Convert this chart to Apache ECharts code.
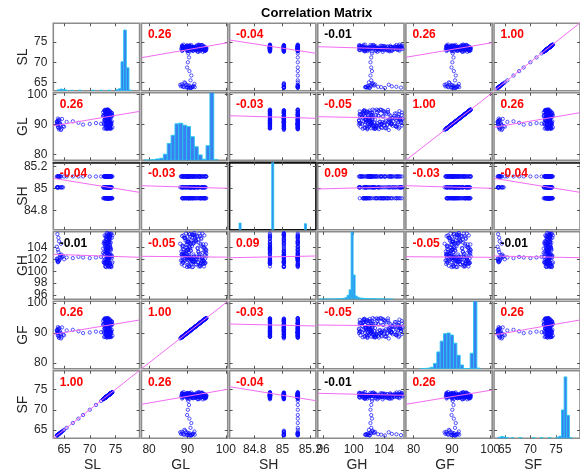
<!DOCTYPE html>
<html>
<head>
<meta charset="utf-8">
<script src="https://cdn.jsdelivr.net/npm/echarts@6/dist/echarts.min.js"></script>
<style>
html, body { margin: 0; padding: 0; background: #fff; }
#chart { width: 580px; height: 476px; }
</style>
</head>
<body>
<div id="chart"></div>
<script>
// Variables, in matrix order (rows top to bottom, columns left to right)
const varNames = ['SL', 'GL', 'SH', 'GH', 'GF', 'SF'];

// Observations: five high-SL blocks, the low-SL group, then the in-between records
const SL = [
  73.6,73.2,73.9,73.4,74.1,73.0,73.7,73.5,72.8,73.8,74.3,73.3,73.6,72.6,73.9,73.1,74.0,73.5,73.4,73.7,72.9,74.2,73.6,73.3,73.8,73.0,73.5,74.4,73.2,73.7,
  73.4,73.8,73.1,74.0,73.5,72.7,73.6,73.9,73.3,74.2,73.0,73.7,73.4,73.8,72.9,73.5,74.1,73.2,73.6,74.3,73.4,72.8,73.7,73.1,73.9,73.5,74.0,73.3,72.6,73.6,
  73.7,73.3,74.0,73.5,72.9,73.8,73.2,74.2,73.6,73.0,73.9,73.4,74.3,73.1,73.7,72.7,73.5,74.1,73.3,73.8,73.6,72.8,74.0,73.4,73.9,73.2,73.6,74.4,73.0,73.5,
  73.5,73.1,73.8,73.6,73.3,74.0,73.2,73.7,73.4,73.9,73.0,73.6,73.5,74.2,73.3,72.9,73.8,73.4,73.6,74.1,73.2,73.5,73.7,72.8,73.9,73.4,73.1,73.6,74.0,73.3,
  73.6,73.9,73.3,73.5,74.1,73.0,73.7,73.4,73.8,72.7,73.5,74.3,73.2,73.6,73.9,73.1,73.4,74.0,73.7,72.9,73.5,73.8,73.3,74.2,73.6,73.0,73.4,73.9,73.2,73.7,
  63.7,64.1,63.9,64.4,63.6,64.0,64.6,63.8,64.2,65.0,63.7,64.3,63.9,64.1,64.8,63.6,64.5,64.0,63.8,63.8,63.7,63.7,64.4,63.9,
  65.5,66.7,67.8,68.7,70.0,71.2,72.2
];
const GL = [
  88.9,93.4,90.7,94.6,89.8,92.1,91.3,94.9,88.6,90.2,93.8,91.9,89.3,92.7,94.2,90.9,88.7,93.1,91.6,89.5,94.4,92.4,90.4,93.6,89.1,91.1,94.8,92.9,90.0,93.3,
  91.7,89.4,94.3,92.6,88.8,90.5,93.9,91.2,94.7,89.9,92.3,90.8,93.5,88.5,91.5,94.1,90.1,92.8,89.2,93.0,91.0,94.5,89.7,92.0,90.6,93.7,88.7,91.8,94.0,90.3,
  93.2,90.0,88.6,92.5,94.8,91.4,89.6,93.9,90.7,94.3,88.9,92.2,91.0,94.6,89.3,93.1,90.4,92.9,88.4,91.7,94.1,89.9,93.6,91.2,90.2,94.9,92.0,89.0,93.4,91.5,
  90.4,93.7,91.8,89.2,94.4,92.3,88.8,91.0,93.2,89.7,94.7,92.6,90.9,88.6,93.9,91.4,89.5,92.1,94.2,90.6,88.9,93.4,91.6,90.1,94.5,92.8,89.9,91.3,93.0,90.0,
  92.0,89.1,94.0,90.8,93.3,88.7,91.9,94.6,90.3,92.7,89.4,93.6,91.1,94.9,89.8,92.4,88.5,90.7,93.8,91.5,94.3,89.6,92.9,90.5,88.8,93.1,91.7,94.1,90.2,92.2,
  90.2,88.7,91.4,89.6,90.9,88.3,91.8,89.9,90.5,89.2,91.1,90.0,88.9,91.6,89.4,90.7,88.5,90.3,91.9,89.1,90.6,89.8,88.1,91.2,
  90.8,91.0,90.5,89.9,90.1,90.4,90.2
];
const SH = [
  84.91,84.91,84.91,84.91,84.91,84.91,84.91,84.91,84.91,84.91,84.91,84.91,84.91,84.91,84.91,84.91,84.91,84.91,84.91,84.91,84.91,84.91,84.91,84.91,84.91,84.91,84.91,84.91,84.91,84.91,
  85.01,85.01,85.01,85.01,85.01,85.01,85.01,85.01,85.01,85.01,85.01,85.01,85.01,85.01,85.01,85.01,85.01,85.01,85.01,85.01,85.01,85.01,85.01,85.01,85.01,85.01,85.01,85.01,85.01,85.01,
  85.11,85.11,85.11,85.11,85.11,85.11,85.11,85.11,85.11,85.11,85.11,85.11,85.11,85.11,85.11,85.11,85.11,85.11,85.11,85.11,85.11,85.11,85.11,85.11,85.11,85.11,85.11,85.11,85.11,85.11,
  84.91,85.01,85.11,84.91,85.01,85.11,84.91,85.01,85.11,84.91,85.01,85.11,84.91,85.01,85.11,84.91,85.01,85.11,84.91,85.01,85.11,84.91,85.01,85.11,84.91,85.01,85.11,84.91,85.01,85.11,
  85.01,85.11,84.91,85.01,85.11,84.91,85.01,85.11,84.91,85.01,85.11,84.91,85.01,85.11,84.91,85.01,85.11,84.91,85.01,85.11,84.91,85.01,85.11,84.91,85.01,85.11,84.91,85.01,85.11,84.91,
  85.01,85.11,85.01,85.11,85.01,85.11,85.01,85.11,85.01,85.11,85.01,85.11,85.01,85.11,85.01,85.11,85.01,85.11,85.01,85.11,85.01,85.11,85.01,85.11,
  85.11,85.11,85.11,85.11,85.11,85.11,85.11
];
const GH = [
  104.2,101.3,105.8,102.7,103.5,101.2,106.1,103.0,101.8,104.9,102.2,105.4,101.7,103.8,101.4,104.6,102.9,106.3,101.6,105.1,103.3,102.4,104.0,101.3,105.6,102.0,103.6,101.5,104.4,105.9,
  102.5,105.5,100.8,103.9,101.5,104.7,102.1,106.2,103.2,100.7,105.0,101.9,104.3,102.8,106.0,101.2,103.7,105.3,100.9,102.6,104.8,101.4,103.4,105.7,102.3,101.7,104.1,106.4,103.1,100.8,
  101.0,103.6,105.9,102.0,104.5,100.7,103.0,106.3,101.6,104.0,102.7,105.2,101.3,103.8,105.6,102.4,100.9,104.8,103.3,106.1,101.8,102.9,105.4,104.2,101.1,103.5,102.2,106.0,100.8,104.6,
  103.1,101.6,104.8,102.9,106.0,101.1,103.7,105.2,102.3,104.4,101.4,105.8,103.4,102.6,104.1,101.5,105.5,102.0,103.9,106.2,101.8,104.6,102.8,105.0,101.3,103.3,104.9,102.2,100.8,105.7,
  105.1,102.7,101.9,103.5,100.9,104.3,106.1,102.1,104.9,101.5,103.0,105.6,100.7,102.5,104.0,105.9,101.2,103.8,102.4,104.7,101.7,106.3,103.2,100.8,101.4,102.9,101.6,104.5,103.6,102.0,
  101.9,102.3,101.6,102.6,102.1,101.8,102.4,101.5,102.7,102.0,101.7,102.2,103.2,101.9,102.5,104.1,102.8,105.0,101.6,103.6,106.2,102.1,104.6,105.6,
  102.3,102.2,102.4,102.3,102.2,102.3,102.4
];
const GF = [
  88.9,93.5,90.7,94.6,89.8,92.1,91.3,94.8,88.6,90.2,93.8,91.9,89.3,92.7,94.2,90.9,88.7,93.1,91.6,89.5,94.4,92.4,90.4,93.6,89.1,91.1,94.8,92.9,90.0,93.3,
  91.7,89.4,94.3,92.6,88.8,90.5,93.9,91.2,94.7,89.9,92.3,90.8,93.5,88.5,91.5,94.1,90.1,92.8,89.2,93.0,91.0,94.5,89.7,92.0,90.6,93.7,88.7,91.8,94.0,90.3,
  93.2,90.0,88.6,92.5,94.8,91.4,89.6,93.9,90.7,94.3,88.9,92.2,91.0,94.6,89.3,93.1,90.4,92.9,88.4,91.7,94.1,89.9,93.6,91.2,90.2,94.9,92.0,89.0,93.4,91.5,
  90.4,93.7,91.8,89.2,94.4,92.3,88.8,91.0,93.2,89.7,94.7,92.6,90.9,88.6,93.9,91.4,89.5,92.1,94.2,90.6,88.9,93.4,91.6,90.1,94.5,92.8,89.9,91.3,93.0,90.0,
  92.0,89.1,94.0,90.8,93.3,88.7,91.9,94.6,90.3,92.7,89.4,93.6,91.1,94.9,89.8,92.4,88.5,90.7,93.8,91.5,94.3,89.6,92.9,90.5,88.8,93.1,91.7,94.1,90.2,92.2,
  90.2,88.7,91.4,89.6,90.9,88.3,91.8,89.9,90.5,89.2,91.1,90.0,88.9,91.6,89.4,90.7,88.5,90.3,91.9,89.1,90.6,89.8,88.1,91.2,
  90.8,91.0,90.5,89.9,90.1,90.4,90.2
];
const SF = [
  73.6,73.2,73.8,73.4,74.1,73.0,73.7,73.5,72.8,73.8,74.2,73.3,73.6,72.6,73.9,73.1,74.0,73.5,73.4,73.7,72.9,74.2,73.6,73.3,73.8,73.0,73.5,74.4,73.2,73.7,
  73.4,73.8,73.1,74.0,73.5,72.7,73.6,73.9,73.3,74.2,73.0,73.7,73.4,73.8,72.9,73.5,74.1,73.2,73.6,74.3,73.4,72.8,73.7,73.1,73.9,73.5,74.0,73.3,72.6,73.6,
  73.7,73.3,74.0,73.5,72.9,73.8,73.2,74.2,73.6,73.0,73.9,73.4,74.3,73.1,73.7,72.7,73.5,74.1,73.3,73.8,73.6,72.8,74.0,73.4,73.9,73.2,73.6,74.4,73.0,73.5,
  73.5,73.1,73.8,73.6,73.3,74.0,73.2,73.7,73.4,73.9,73.0,73.6,73.5,74.2,73.3,72.9,73.8,73.4,73.6,74.1,73.2,73.5,73.7,72.8,73.9,73.4,73.1,73.6,74.0,73.3,
  73.6,73.9,73.3,73.5,74.1,73.0,73.7,73.4,73.8,72.7,73.5,74.3,73.2,73.6,73.9,73.1,73.4,74.0,73.7,72.9,73.5,73.8,73.3,74.2,73.6,73.0,73.4,73.9,73.2,73.7,
  63.7,64.1,63.9,64.4,63.6,64.0,64.6,63.8,64.2,65.0,63.7,64.3,63.9,64.1,64.8,63.6,64.5,64.0,63.8,63.8,63.7,63.7,64.4,63.9,
  65.5,66.7,67.8,68.7,70.0,71.2,72.2
];
const columns = [SL, GL, SH, GH, GF, SF];

// Axis limits and tick values for each variable
const axisMin = [62.9, 78, 84.62, 95.3, 78, 62.9];
const axisMax = [79.7, 100.5, 85.24, 106.6, 100.5, 79.7];
const rowTicks = [[65, 70, 75], [80, 90, 100], [84.8, 85, 85.2], [96, 98, 100, 102, 104], [80, 90, 100], [65, 70, 75]];
const colTicks = [[65, 70, 75], [80, 90, 100], [84.8, 85, 85.2], [96, 100, 104], [80, 90, 100], [65, 70, 75]];

// Pairwise correlation coefficients and whether each one is significant
const corrText = [
  ['', '0.26', '-0.04', '-0.01', '0.26', '1.00'],
  ['0.26', '', '-0.03', '-0.05', '1.00', '0.26'],
  ['-0.04', '-0.03', '', '0.09', '-0.03', '-0.04'],
  ['-0.01', '-0.05', '0.09', '', '-0.05', '-0.01'],
  ['0.26', '1.00', '-0.03', '-0.05', '', '0.26'],
  ['1.00', '0.26', '-0.04', '-0.01', '0.26', '']
];
const corrSignificant = [
  [0, 1, 1, 0, 1, 1],
  [1, 0, 1, 1, 1, 1],
  [1, 1, 0, 1, 1, 1],
  [0, 1, 1, 0, 1, 0],
  [1, 1, 1, 1, 0, 1],
  [1, 1, 1, 0, 1, 0]
];

// Least-squares lines: fitted row-variable value at the column axis minimum and maximum
const fitAtMin = [
  [null, 71.14, 75.54, 73.88, 71.24, 62.9],
  [89.5, null, 92.87, 92.53, 78.0, 89.0],
  [85.093, 85.025, null, 84.995, 85.025, 85.093],
  [102.83, 102.5, 102.26, null, 102.43, 102.55],
  [89.5, 78.0, 92.93, 92.6, null, 89.27],
  [62.9, 71.36, 75.74, 74.1, 71.36, null]
];
const fitAtMax = [
  [null, 74.87, 72.23, 73.23, 74.87, 79.8],
  [94.3, null, 92.0, 92.0, 100.5, 93.87],
  [84.964, 85.001, null, 85.016, 85.001, 84.964],
  [102.33, 102.35, 102.55, null, 102.33, 102.26],
  [94.27, 100.5, 92.27, 92.27, null, 94.27],
  [79.8, 75.1, 72.26, 73.6, 74.92, null]
];

// Diagonal histograms: bin range, bin width, bin centres and bar heights (percent of panel height)
const histRange = [[62.7, 75.7], [85.68, 96.8], [84.878, 85.142], [97.7, 108.5], [84.36, 97.3], [62.7, 75.7]];
const histBinWidth = [0.4, 0.5, 0.006, 0.25, 0.5, 0.4];
const histCenters = [
  [63.5, 63.9, 64.3, 64.7, 65.5, 66.7, 68.7, 69.9, 71.1, 72.3, 72.7, 73.1, 73.5, 73.9, 74.3],
  [86.25, 86.75, 87.25, 87.75, 88.25, 88.75, 89.25, 89.75, 90.25, 90.75, 91.25, 91.75, 92.25, 92.75, 93.25, 93.75, 94.25, 94.75, 95.25],
  [84.91, 85.01, 85.11],
  [98.0, 98.25, 98.5, 98.75, 99.0, 99.25, 99.5, 99.75, 100.0, 100.25, 100.5, 100.75, 101.0, 101.25, 101.5, 101.75, 102.0, 102.25, 102.5, 102.75, 103.0, 103.25, 103.5, 103.75, 104.0, 104.25, 104.5, 104.75, 105.0, 105.25, 105.5, 105.75, 106.0, 106.25, 106.5, 106.75, 107.0],
  [86.75, 87.25, 87.75, 88.25, 88.75, 89.25, 89.75, 90.25, 90.75, 91.25, 91.75, 92.25, 92.75, 93.25, 93.75, 94.25, 94.75, 95.25],
  [63.5, 63.9, 64.3, 64.7, 65.5, 66.7, 68.7, 69.9, 71.1, 72.3, 72.7, 73.1, 73.5, 73.9, 74.3]
];
const histHeights = [
  [1.5, 2.5, 2, 1, 0.8, 1, 1, 1, 1, 1.5, 3, 43, 90, 34, 1],
  [0.3, 0.5, 1, 2, 3, 9, 25, 37, 54, 55, 52, 50, 35, 20, 8, 1.5, 21.6, 130, 1],
  [10, 130, 9],
  [0.4, 0.4, 0.4, 0.5, 0.5, 0.5, 0.5, 0.6, 0.6, 0.7, 0.8, 1, 1.5, 2.5, 6, 14, 130, 36, 5, 3, 2, 1.6, 1.3, 1.1, 1, 0.9, 0.8, 0.7, 0.7, 0.6, 0.6, 0.5, 0.5, 0.4, 0.4, 0.3, 0.3],
  [0.3, 0.5, 1, 2.2, 8, 25, 41, 52, 53, 50, 38, 20, 5.6, 0.5, 0.3, 23, 130, 1],
  [1.5, 2.5, 2, 1, 0.8, 1, 1, 1, 1, 1.5, 3, 42, 91, 34, 1]
];

// ---- layout and drawing ----
const FONT = "'Liberation Sans', Arial, Helvetica, sans-serif";
const TEXT = '#262626';
const LAYOUT = { left0: 53.3, top0: 23.3, stepX: 88.15, stepY: 69.5, w: 86.3, h: 67.5 };
const N = varNames.length;

const grids = [], xAxes = [], yAxes = [], series = [], graphics = [];

function frameAxis(gridIndex, position, min, max, ticks, labelShow, lineColor) {
  return {
    type: 'value', gridIndex, position, min, max,
    axisLine: { show: !!lineColor, lineStyle: { color: lineColor || '#000', width: 1.6 } },
    splitLine: { show: false },
    axisTick: { show: true, inside: true, length: 3, customValues: ticks, lineStyle: { color: '#555', width: 1 } },
    axisLabel: {
      show: labelShow, customValues: ticks, fontSize: 12, fontFamily: FONT, color: TEXT,
      margin: (position === 'left' || position === 'right') ? 6 : 5
    }
  };
}

for (let i = 0; i < N; i++) {
  for (let j = 0; j < N; j++) {
    const p = i * N + j;
    const left = LAYOUT.left0 + j * LAYOUT.stepX;
    const top = LAYOUT.top0 + i * LAYOUT.stepY;
    grids.push({
      left, top, width: LAYOUT.w, height: LAYOUT.h, show: true,
      borderColor: (i === 2 && j === 2) ? '#111' : '#8c8c8c', borderWidth: 1.6,
      backgroundColor: 'transparent'
    });
    xAxes.push(frameAxis(p, 'bottom', axisMin[j], axisMax[j], colTicks[j], i === N - 1));
    xAxes.push(frameAxis(p, 'top', axisMin[j], axisMax[j], colTicks[j], false, i === 2 ? '#111' : null));
    yAxes.push(frameAxis(p, 'left', axisMin[i], axisMax[i], rowTicks[i], j === 0));
    yAxes.push(frameAxis(p, 'right', axisMin[i], axisMax[i], rowTicks[i], false));

    if (i === j) continue;

    const pts = columns[j].map((v, k) => [v, columns[i][k]]);
    series.push({
      type: 'scatter', xAxisIndex: 2 * p, yAxisIndex: 2 * p, data: pts,
      symbol: 'circle', symbolSize: 3.3, silent: true, z: 2,
      itemStyle: { color: 'rgba(0,0,0,0)', borderColor: '#0a0aff', borderWidth: 0.85 }
    });
    series.push({
      type: 'line', xAxisIndex: 2 * p, yAxisIndex: 2 * p, clip: true, silent: true, z: 3,
      showSymbol: false, symbol: 'none',
      data: [[axisMin[j], fitAtMin[i][j]], [axisMax[j], fitAtMax[i][j]]],
      lineStyle: { color: '#f26cf2', width: 1 }
    });
    graphics.push({
      type: 'text', x: left + 6.5, y: top + 11.5, z: 100, silent: true,
      style: {
        text: corrText[i][j], fill: corrSignificant[i][j] ? '#ff0000' : '#000000',
        font: 'bold 12px ' + FONT, textAlign: 'left', textVerticalAlign: 'middle'
      }
    });
  }
}

// Hidden axes carrying the diagonal histograms
for (let d = 0; d < N; d++) {
  const p = d * N + d;
  const ax = xAxes.length, ay = yAxes.length;
  xAxes.push({ type: 'value', gridIndex: p, min: histRange[d][0], max: histRange[d][1], show: false });
  yAxes.push({ type: 'value', gridIndex: p, min: 0, max: 100, show: false });
  const w = histBinWidth[d];
  series.push({
    type: 'custom', xAxisIndex: ax, yAxisIndex: ay, clip: true, silent: true, z: 2,
    data: histCenters[d].map((c, k) => [c, histHeights[d][k]]),
    renderItem: function (params, api) {
      const c = api.value(0), h = api.value(1);
      const a = api.coord([c - w / 2, 0]);
      const b = api.coord([c + w / 2, h]);
      return {
        type: 'rect',
        shape: { x: a[0], y: b[1], width: b[0] - a[0], height: a[1] - b[1] },
        style: { fill: '#3a7ef0', stroke: '#22c8f2', lineWidth: 0.9 }
      };
    }
  });
}

// Variable names along the left and bottom edges, plus the title
for (let k = 0; k < N; k++) {
  graphics.push({
    type: 'text', x: 23.5, y: LAYOUT.top0 + k * LAYOUT.stepY + LAYOUT.h / 2, rotation: Math.PI / 2, silent: true,
    style: { text: varNames[k], fill: TEXT, font: '14px ' + FONT, textAlign: 'center', textVerticalAlign: 'middle' }
  });
  graphics.push({
    type: 'text', x: LAYOUT.left0 + k * LAYOUT.stepX + LAYOUT.w / 2 - 4, y: 465, silent: true,
    style: { text: varNames[k], fill: TEXT, font: '14px ' + FONT, textAlign: 'center', textVerticalAlign: 'middle' }
  });
}
graphics.push({
  type: 'text', x: 316.7, y: 13.5, silent: true,
  style: { text: 'Correlation Matrix', fill: '#000', font: 'bold 13px ' + FONT, textAlign: 'center', textVerticalAlign: 'middle' }
});

const chart = echarts.init(document.getElementById('chart'), null, { renderer: 'canvas' });
chart.setOption({
  animation: false,
  backgroundColor: '#ffffff',
  grid: grids,
  xAxis: xAxes,
  yAxis: yAxes,
  series: series,
  graphic: { elements: graphics }
});
</script>
</body>
</html>
